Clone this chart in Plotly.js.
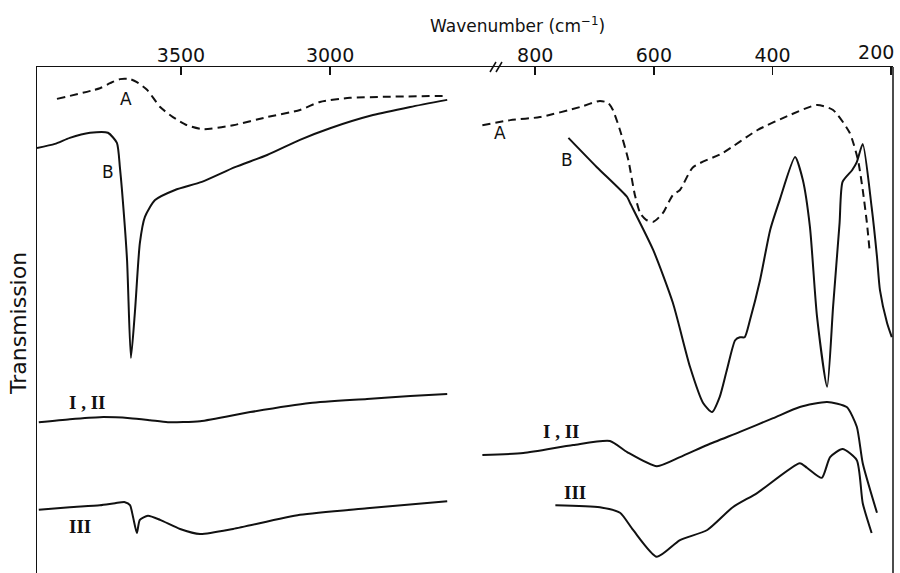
<!DOCTYPE html>
<html>
<head>
<meta charset="utf-8">
<script src="https://cdn.plot.ly/plotly-3.0.1.min.js"></script>
<style>html,body{margin:0;padding:0;background:#fff;}#chart{width:900px;height:573px;}</style>
</head>
<body>
<div id="chart"></div>
<script>
// ---- High-frequency region (cm-1), arbitrary transmission units ----
const hiA_wn = [3916,3772,3738,3705,3671,3648,3614,3570,3527,3480,3426,3325,3211,3101,3034,2933,2822,2607];
const hiA_T  = [93.7,95.8,96.8,97.6,97.6,97.0,95.5,92.1,90.1,88.5,87.7,88.5,90.1,91.5,93.1,93.9,94.1,94.3];

const hiB_wn = [3983,3923,3873,3805,3745,3715,3705,3698,3681,3668,3654,3638,3621,3587,3520,3430,3319,3211,3101,3000,2856,2731,2607];
const hiB_T  = [84.0,84.8,86.0,87.0,87.0,85.0,80.2,75.7,61.9,42.5,52.0,65.2,70.4,73.7,75.7,77.3,80.2,82.6,85.6,87.9,90.5,92.1,93.5];

const hiI_wn = [3977,3873,3772,3671,3604,3544,3436,3268,3067,2876,2731,2607];
const hiI_T  = [29.8,30.4,30.8,30.6,30.2,29.8,30.0,31.8,33.6,34.4,35.0,35.4];

const hiIII_wn = [3977,3873,3772,3721,3688,3671,3661,3648,3638,3611,3570,3503,3436,3325,3101,2876,2607];
const hiIII_T  = [12.5,13.0,13.4,13.8,14.0,13.4,11.1,7.9,10.5,11.3,10.5,8.7,7.7,8.7,11.5,12.8,14.2];

// ---- Low-frequency region (cm-1) ----
const loA_wn = [889,842,792,724,691,677,669,657,643,632,623,613,601,585,568,556,534,484,426,371,325,298,270,256,248,241,236];
const loA_T  = [88.5,89.5,90.1,92.1,93.3,92.9,91.5,87.5,81.6,74.7,71.1,69.8,69.4,71.1,74.7,75.7,80.2,83.0,87.5,90.5,92.5,91.5,87.0,81.6,75.7,69.2,63.2];

const loB_wn = [744,696,645,640,601,568,539,517,502,489,477,463,455,447,438,421,404,388,362,349,337,325,308,298,287,282,266,258,248,233,224,219,207,199];
const loB_T  = [86.0,80.2,74.3,73.1,63.8,53.4,40.7,33.6,31.8,34.8,40.1,46.0,46.6,46.6,50.0,57.9,67.8,73.7,82.2,77.7,68.4,50.6,36.8,52.6,69.2,77.3,79.6,81.2,84.8,72.3,62.5,55.9,49.4,46.6];

const loI_wn = [889,820,736,674,645,595,556,510,455,399,354,308,275,258,248,224];
const loI_T  = [23.3,23.7,25.3,26.1,23.9,21.1,22.9,25.3,27.9,30.6,32.8,33.8,32.8,28.9,21.7,11.9];

const loIII_wn = [766,691,657,635,595,556,510,467,426,354,342,317,303,282,258,248,233];
const loIII_T  = [13.4,13.0,11.9,8.5,3.2,6.5,8.5,13.0,15.8,21.7,20.8,18.8,22.9,24.5,22.3,13.8,7.9];

// tick labels
const hiTicks = [3500, 3000];
const hiTickText = ["3500", "3000"];
const hiMinorTicks = [2500];
const loTicks = [800, 600, 400];
const loTickText = ["800", "600", "400"];
const edgeTicks = [200];
const edgeTickText = ["200"];

// curve labels
const labels = [
  {axis:'x',  wn:3685, T:93.7, text:'A', serif:false},
  {axis:'x',  wn:3745, T:79.3, text:'B', serif:false},
  {axis:'x',  wn:3815, T:33.6, text:'I , II', serif:true},
  {axis:'x',  wn:3839, T:9.1,  text:'III', serif:true},
  {axis:'x2', wn:859,  T:87.0, text:'A', serif:false},
  {axis:'x2', wn:746,  T:81.6, text:'B', serif:false},
  {axis:'x2', wn:756,  T:27.9, text:'I , II', serif:true},
  {axis:'x2', wn:733,  T:16.0, text:'III', serif:true}
];

const ink = '#111';
function tr(x, y, xa, dashed) {
  return {x: x, y: y, xaxis: xa, yaxis: 'y', type: 'scatter', mode: 'lines',
    line: {color: ink, width: 2, shape: 'spline', smoothing: 0.6, dash: dashed ? '8px,5px' : 'solid'},
    hoverinfo: 'skip'};
}

const data = [
  tr(hiA_wn, hiA_T, 'x', true),
  tr(hiB_wn, hiB_T, 'x', false),
  tr(hiI_wn, hiI_T, 'x', false),
  tr(hiIII_wn, hiIII_T, 'x', false),
  tr(loA_wn, loA_T, 'x2', true),
  tr(loB_wn, loB_T, 'x2', false),
  tr(loI_wn, loI_T, 'x2', false),
  tr(loIII_wn, loIII_T, 'x3', false)   // x3 overlays x2 exactly (same domain & range)
];

const split = (480 - 37) / 856;
const tickFont = {family: 'DejaVu Sans', size: 19, color: ink};

const annotations = labels.map(l => ({
  xref: l.axis, yref: 'y', x: l.wn, y: l.T, text: l.serif ? '<b>' + l.text + '</b>' : l.text, showarrow: false,
  font: l.serif ? {family: 'Liberation Serif', size: 19, color: ink} : {family: 'DejaVu Sans', size: 17, color: ink}
}));
annotations.push({xref: 'paper', yref: 'paper', x: (517 - 37) / 856, y: 1, yshift: 42, yanchor: 'middle',
  text: 'Wavenumber (cm<sup>−1</sup>)', showarrow: false,
  font: {family: 'DejaVu Sans', size: 17, color: ink}});
annotations.push({xref: 'paper', yref: 'paper', x: 0, xanchor: 'center', xshift: -19, y: 0.5, yanchor: 'middle', yshift: -4,
  text: 'Transmission', textangle: -90, showarrow: false,
  font: {family: 'DejaVu Sans', size: 22, color: ink}});

const breakX = [(493 - 37) / 856, (499 - 37) / 856];
const shapes = breakX.map(bx => ({
  type: 'line', xref: 'paper', yref: 'paper', xsizemode: 'pixel', ysizemode: 'pixel',
  xanchor: bx, yanchor: 1, x0: -3, x1: 3, y0: -5, y1: 5, line: {color: ink, width: 1.5}
}));
shapes.push({type: 'line', xref: 'paper', yref: 'paper', x0: 1, x1: 1, y0: 0, y1: 1, line: {color: ink, width: 1.5}});

const loAxisBase = {domain: [split, 1], range: [893, 197], side: 'top', anchor: 'y',
  showgrid: false, zeroline: false, ticks: 'inside', ticklen: 8, tickwidth: 1.5, tickcolor: ink,
  tickfont: tickFont, ticklabelstandoff: -4};

const layout = {
  width: 900, height: 573,
  margin: {l: 37, r: 7, t: 67, b: 0, pad: 0},
  paper_bgcolor: '#fff', plot_bgcolor: '#fff',
  showlegend: false, hovermode: false,
  xaxis: {domain: [0, split], range: [3983, 2497], side: 'top', anchor: 'y',
    showgrid: false, zeroline: false, showline: true, linecolor: ink, linewidth: 1.5,
    ticks: 'inside', ticklen: 8, tickwidth: 1.5, tickcolor: ink,
    tickvals: hiTicks, ticktext: hiTickText, tickfont: tickFont, ticklabelstandoff: -4,
    minor: {tickvals: hiMinorTicks, ticks: 'inside', ticklen: 8, tickwidth: 1.5, tickcolor: ink, showgrid: false}},
  xaxis2: Object.assign({}, loAxisBase, {showline: true, linecolor: ink, linewidth: 1.5,
    tickvals: loTicks, ticktext: loTickText}),
  xaxis3: Object.assign({}, loAxisBase, {overlaying: 'x2', showline: false,
    tickvals: edgeTicks, ticktext: edgeTickText, ticklabelshift: 15, ticklabelstandoff: 3,
    ticklabeloverflow: 'allow'}),
  yaxis: {domain: [0, 1], range: [0, 100], anchor: 'x', showgrid: false, zeroline: false,
    showline: true, linecolor: ink, linewidth: 1.5, showticklabels: false, ticks: ''},
  annotations: annotations,
  shapes: shapes
};

Plotly.newPlot('chart', data, layout, {displayModeBar: false, staticPlot: true});
</script>
</body>
</html>
